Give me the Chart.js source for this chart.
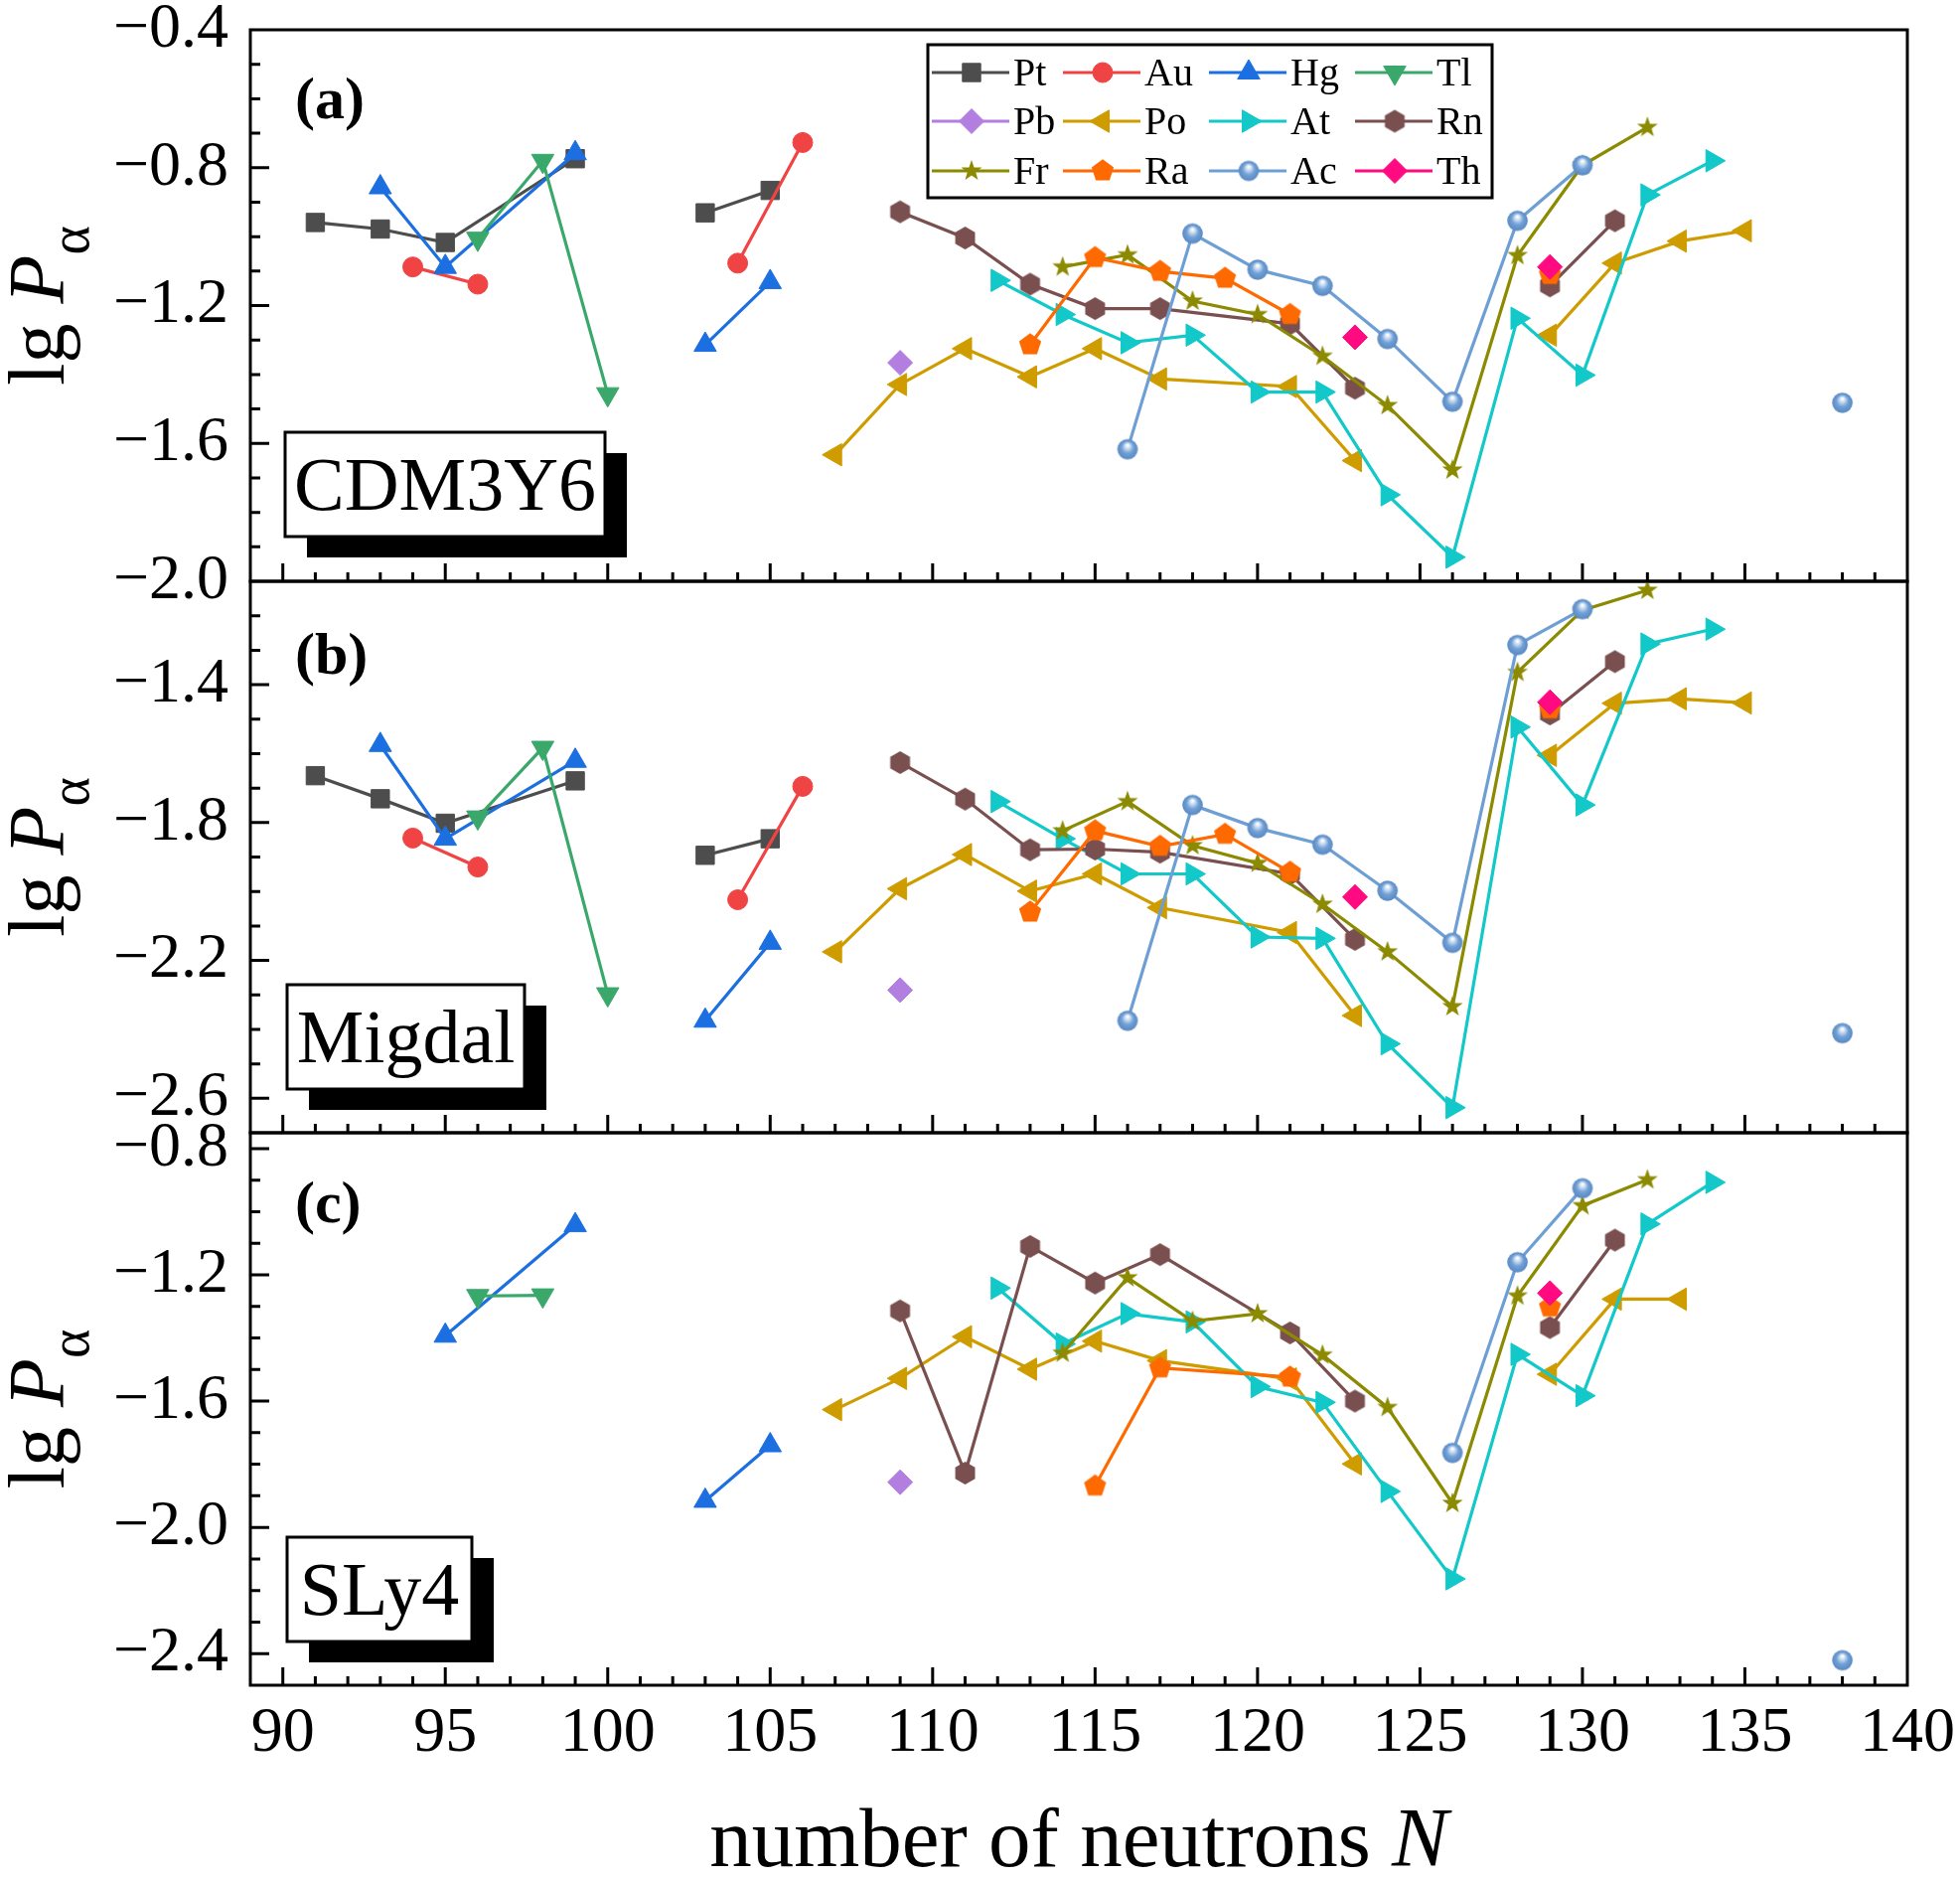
<!DOCTYPE html>
<html>
<head>
<meta charset="utf-8">
<script src="https://cdn.jsdelivr.net/npm/chart.js@4.4.1/dist/chart.umd.min.js"></script>
<style>
  html, body { margin: 0; padding: 0; background: #fff; }
  #wrap { position: relative; width: 1973px; height: 1889px; }
  #wrap canvas { position: absolute; left: 0; top: 0; }
</style>
</head>
<body>
<div id="wrap">
  <canvas id="panel-a" width="1973" height="1889"></canvas>
  <canvas id="panel-b" width="1973" height="1889"></canvas>
  <canvas id="panel-c" width="1973" height="1889"></canvas>
</div>
<script>
// lg P_alpha vs neutron number N
// A = CDM3Y6, B = Migdal, C = SLy4 ; null = no point (line is broken there)

const nPt = [91, 93, 95, 99, 101, 103, 105];
const ptA = [-0.959, -0.978, -1.017, -0.774, null, -0.931, -0.866];
const ptB = [-1.664, -1.731, -1.802, -1.679, null, -1.895, -1.847];
const ptC = [null, null, null, null, null, null, null];

const nAu = [94, 96, 100, 104, 106];
const auA = [-1.088, -1.138, null, -1.077, -0.727];
const auB = [-1.845, -1.929, null, -2.024, -1.695];
const auC = [null, null, null, null, null];

const nHg = [93, 95, 99, 101, 103, 105];
const hgA = [-0.857, -1.088, -0.758, null, -1.314, -1.132];
const hgB = [-1.575, -1.847, -1.621, null, -2.375, -2.149];
const hgC = [null, -1.393, -1.043, null, -1.916, -1.740];

const nTl = [96, 98, 100];
const tlA = [-1.006, -0.780, -1.457];
const tlB = [-1.785, -1.583, -2.298];
const tlC = [-1.267, -1.265, null];

const nPb = [109];
const pbA = [-1.366];
const pbB = [-2.286];
const pbC = [-1.857];

const nPo = [107, 109, 111, 113, 115, 117, 121, 123, 125, 129, 131, 133, 135];
const poA = [-1.633, -1.429, -1.325, -1.407, -1.325, -1.413, -1.435, -1.650, null, -1.286, -1.077, -1.013, -0.983];
const poB = [-2.175, -1.992, -1.893, -1.999, -1.949, -2.047, -2.119, -2.360, null, -1.605, -1.454, -1.441, -1.453];
const poC = [-1.627, -1.528, -1.396, -1.499, -1.410, -1.472, -1.530, -1.799, null, -1.515, -1.277, -1.277, null];

const nAt = [112, 114, 116, 118, 120, 122, 124, 126, 128, 130, 132, 134];
const atA = [-1.127, -1.226, -1.308, -1.286, -1.451, -1.451, -1.749, -1.930, -1.237, -1.402, -0.879, -0.780];
const atB = [-1.739, -1.847, -1.949, -1.949, -2.132, -2.136, -2.442, -2.627, -1.523, -1.749, -1.282, -1.239];
const atC = [-1.242, -1.419, -1.323, -1.349, -1.554, -1.604, -1.886, -2.163, -1.452, -1.583, -1.039, -0.907];

const nRn = [109, 111, 113, 115, 117, 121, 123, 125, 129, 131];
const rnA = [-0.928, -1.004, -1.138, -1.209, -1.209, -1.253, -1.440, null, -1.143, -0.954];
const rnB = [-1.626, -1.732, -1.879, -1.877, -1.886, -1.949, -2.139, null, -1.485, -1.333];
const rnC = [-1.314, -1.828, -1.110, -1.226, -1.136, -1.384, -1.600, null, -1.367, -1.090];

const nFr = [114, 116, 118, 120, 122, 124, 126, 128, 130, 132];
const frA = [-1.088, -1.053, -1.187, -1.226, -1.347, -1.490, -1.677, -1.055, -0.793, -0.683];
const frB = [-1.824, -1.739, -1.867, -1.918, -2.037, -2.175, -2.334, -1.364, -1.184, -1.126];
const frC = [-1.448, -1.209, -1.347, -1.323, -1.454, -1.620, -1.924, -1.267, -0.981, -0.899];

const nRa = [113, 115, 117, 119, 121, 125, 129];
const raA = [-1.314, -1.061, -1.101, -1.121, -1.226, null, -1.110];
const raB = [-2.060, -1.824, -1.869, -1.834, -1.944, null, -1.470];
const nRaC = [115, 117, 121, 125, 129];
const raC = [-1.869, -1.495, -1.524, null, -1.302];

const nAc = [116, 118, 120, 122, 124, 126, 128, 130, 134, 138];
const acA = [-1.617, -0.991, -1.096, -1.143, -1.297, -1.479, -0.954, -0.793, null, -1.482];
const acB = [-2.375, -1.749, -1.816, -1.864, -1.998, -2.149, -1.285, -1.181, null, -2.411];
const nAcC = [126, 128, 130, 134, 138];
const acC = [-1.764, -1.160, -0.926, null, -2.421];

const nTh = [123, 126, 129];
const thA = [-1.292, null, -1.088];
const thB = [-2.016, null, -1.451];
const thC = [null, null, -1.258];

// tick labels
const xTicks = [90, 95, 100, 105, 110, 115, 120, 125, 130, 135, 140];
const yTicksA = [-2.0, -1.6, -1.2, -0.8, -0.4];
const yTicksB = [-2.6, -2.2, -1.8, -1.4];
const yTicksC = [-2.4, -2.0, -1.6, -1.2, -0.8];

const SERIF = '"Liberation Serif", "Times New Roman", serif';
const PAGE_H = 1889;

// ---- marker shapes not built into Chart.js ----
function markerCanvas(r, draw) {
    const c = document.createElement('canvas');
    const s = Math.ceil(2 * r + 4);
    c.width = s;
    c.height = s;
    draw(c.getContext('2d'), s / 2, s / 2, r);
    return c;
}
function polygon(g, cx, cy, pts) {
    g.beginPath();
    pts.forEach(([px, py], i) => (i ? g.lineTo(cx + px, cy + py) : g.moveTo(cx + px, cy + py)));
    g.closePath();
    g.fill();
}
function regular(n, r, inner) {
    const pts = [];
    const k = inner ? 2 * n : n;
    for (let i = 0; i < k; i++) {
        const a = -Math.PI / 2 + i * 2 * Math.PI / k;
        const rr = inner && i % 2 ? inner : r;
        pts.push([rr * Math.cos(a), rr * Math.sin(a)]);
    }
    return pts;
}
const hexagon = markerCanvas(11.5, (g, cx, cy, r) => { g.fillStyle = '#7a4f4f'; polygon(g, cx, cy, regular(6, r)); });
const pentagon = markerCanvas(11.7, (g, cx, cy, r) => { g.fillStyle = '#ff6a00'; polygon(g, cx, cy, regular(5, r)); });
const star = markerCanvas(11, (g, cx, cy, r) => { g.fillStyle = '#8b8a00'; polygon(g, cx, cy, regular(5, r, 4.4)); });
const sphere = markerCanvas(10.3, (g, cx, cy, r) => {
    const gr = g.createRadialGradient(cx, cy - r * 0.42, r * 0.06, cx, cy, r);
    gr.addColorStop(0, '#ffffff');
    gr.addColorStop(0.25, '#c2d7ef');
    gr.addColorStop(0.55, '#71a1d6');
    gr.addColorStop(1, '#5888c2');
    g.fillStyle = gr;
    g.beginPath();
    g.arc(cx, cy, r, 0, Math.PI * 2);
    g.fill();
});

const styles = {
    Pt: { color: '#4d4d4d', pointStyle: 'rect', radius: 13, rotation: 0 },
    Au: { color: '#f04444', pointStyle: 'circle', radius: 10, rotation: 0 },
    Hg: { color: '#1c6fe0', pointStyle: 'triangle', radius: 13, rotation: 0 },
    Tl: { color: '#3aa86b', pointStyle: 'triangle', radius: 13, rotation: 180 },
    Pb: { color: '#b27fe0', pointStyle: 'rectRot', radius: 12.5, rotation: 0 },
    Po: { color: '#cf9c00', pointStyle: 'triangle', radius: 13, rotation: 270 },
    At: { color: '#12c8c8', pointStyle: 'triangle', radius: 13, rotation: 90 },
    Rn: { color: '#7a4f4f', pointStyle: hexagon, radius: 11.5, rotation: 0 },
    Fr: { color: '#8b8a00', pointStyle: star, radius: 11, rotation: 0 },
    Ra: { color: '#ff6a00', pointStyle: pentagon, radius: 11.7, rotation: 0 },
    Ac: { color: '#6d9fd5', pointStyle: sphere, radius: 10.3, rotation: 0 },
    Th: { color: '#ff0a80', pointStyle: 'rectRot', radius: 12.5, rotation: 0 },
};
const legendOrder = ['Pt', 'Au', 'Hg', 'Tl', 'Pb', 'Po', 'At', 'Rn', 'Fr', 'Ra', 'Ac', 'Th'];

function series(name, ns, vals) {
    const st = styles[name];
    const idx = legendOrder.indexOf(name);
    return {
        label: name,
        data: ns.map((n, i) => ({ x: n, y: vals[i] })),
        borderColor: st.color,
        backgroundColor: st.color,
        borderWidth: 3.2,
        pointStyle: st.pointStyle,
        pointRotation: st.rotation,
        pointRadius: st.radius,
        pointBorderWidth: 1,
        pointBorderColor: st.color,
        pointBackgroundColor: st.color,
        spanGaps: false,
        tension: 0,
        order: 20 - idx, // later elements drawn on top
    };
}

const panels = [
    {
        id: 'panel-a', top: 30, bottom: 585, min: -2.0, max: -0.4, yTicks: yTicksA,
        tag: '(a)', tagY: 119, box: { text: 'CDM3Y6', x: 287, y: 435, w: 322, h: 105 }, legend: true, showX: false,
        datasets: [series('Pt', nPt, ptA), series('Au', nAu, auA), series('Hg', nHg, hgA), series('Tl', nTl, tlA),
            series('Pb', nPb, pbA), series('Po', nPo, poA), series('At', nAt, atA), series('Rn', nRn, rnA),
            series('Fr', nFr, frA), series('Ra', nRa, raA), series('Ac', nAc, acA), series('Th', nTh, thA)],
    },
    {
        id: 'panel-b', top: 585, bottom: 1140, min: -2.7, max: -1.1, yTicks: yTicksB,
        tag: '(b)', tagY: 678, box: { text: 'Migdal', x: 289, y: 991, w: 239, h: 105 }, legend: false, showX: false,
        datasets: [series('Pt', nPt, ptB), series('Au', nAu, auB), series('Hg', nHg, hgB), series('Tl', nTl, tlB),
            series('Pb', nPb, pbB), series('Po', nPo, poB), series('At', nAt, atB), series('Rn', nRn, rnB),
            series('Fr', nFr, frB), series('Ra', nRa, raB), series('Ac', nAc, acB), series('Th', nTh, thB)],
    },
    {
        id: 'panel-c', top: 1140, bottom: 1696, min: -2.5, max: -0.75, yTicks: yTicksC,
        tag: '(c)', tagY: 1230, box: { text: 'SLy4', x: 289, y: 1547, w: 186, h: 105 }, legend: false, showX: true,
        datasets: [series('Pt', nPt, ptC), series('Au', nAu, auC), series('Hg', nHg, hgC), series('Tl', nTl, tlC),
            series('Pb', nPb, pbC), series('Po', nPo, poC), series('At', nAt, atC), series('Rn', nRn, rnC),
            series('Fr', nFr, frC), series('Ra', nRaC, raC), series('Ac', nAcC, acC), series('Th', nTh, thC)],
    },
];

function fmt(v) {
    return v.toFixed(1).replace('-', '\u2212');
}

// frame, inward ticks, labels, legend
const decor = {
    id: 'decor',
    afterDatasetsDraw(chart, args, opts) {
        const p = opts.panel;
        const { ctx, chartArea: a } = chart;
        const x = chart.scales.x, y = chart.scales.y;
        ctx.save();
        ctx.strokeStyle = '#000';
        ctx.lineWidth = 3;
        ctx.beginPath();
        for (let n = Math.ceil(x.min); n <= x.max; n++) {
            const px = x.getPixelForValue(n);
            if (px < a.left + 2 || px > a.right - 2) continue;
            const len = n % 5 === 0 ? 18 : 9;
            ctx.moveTo(px, a.bottom);
            ctx.lineTo(px, a.bottom - len);
        }
        for (let k = Math.ceil(y.min * 10 - 1e-6); k <= Math.floor(y.max * 10 + 1e-6); k++) {
            const v = k / 10;
            const py = y.getPixelForValue(v);
            if (py < a.top + 2 || py > a.bottom - 2) continue;
            const major = p.yTicks.some(m => Math.abs(m - v) < 1e-6);
            ctx.moveTo(a.left, py);
            ctx.lineTo(a.left + (major ? 19 : 10), py);
        }
        ctx.stroke();
        ctx.strokeRect(a.left, a.top, a.right - a.left, a.bottom - a.top);

        // panel tag
        ctx.fillStyle = '#000';
        ctx.textBaseline = 'alphabetic';
        ctx.textAlign = 'left';
        ctx.font = 'bold 60px ' + SERIF;
        ctx.fillText(p.tag, 297, p.tagY);

        // method box with shadow
        const b = p.box;
        ctx.fillStyle = '#000';
        ctx.fillRect(b.x + 22, b.y + 21, b.w, b.h);
        ctx.fillStyle = '#fff';
        ctx.fillRect(b.x, b.y, b.w, b.h);
        ctx.lineWidth = 3;
        ctx.strokeRect(b.x, b.y, b.w, b.h);
        ctx.fillStyle = '#000';
        ctx.font = '76px ' + SERIF;
        ctx.textAlign = 'center';
        ctx.fillText(b.text, b.x + b.w / 2, b.y + b.h / 2 + 25);

        // y title: lg P_alpha
        const cy = (a.top + a.bottom) / 2;
        ctx.translate(64, cy);
        ctx.rotate(-Math.PI / 2);
        ctx.textAlign = 'left';
        ctx.font = '80px ' + SERIF;
        const w1 = ctx.measureText('lg ').width;
        ctx.font = 'italic 80px ' + SERIF;
        const w2 = ctx.measureText('P').width;
        ctx.font = '56px ' + SERIF;
        const w3 = ctx.measureText('\u03b1').width;
        let sx = -(w1 + w2 + w3) / 2;
        ctx.font = '80px ' + SERIF;
        ctx.fillText('lg ', sx, 0);
        sx += w1;
        ctx.font = 'italic 80px ' + SERIF;
        ctx.fillText('P', sx, 0);
        sx += w2;
        ctx.font = '56px ' + SERIF;
        ctx.fillText('\u03b1', sx, 25);
        ctx.setTransform(1, 0, 0, 1, 0, 0);

        if (p.showX) {
            ctx.font = '85px ' + SERIF;
            const t1 = 'number of neutrons ';
            const tw1 = ctx.measureText(t1).width;
            ctx.font = 'italic 85px ' + SERIF;
            const tw2 = ctx.measureText('N').width;
            const x0 = (a.left + a.right) / 2 - (tw1 + tw2) / 2;
            ctx.font = '85px ' + SERIF;
            ctx.textAlign = 'left';
            ctx.fillText(t1, x0, 1878);
            ctx.font = 'italic 85px ' + SERIF;
            ctx.fillText('N', x0 + tw1, 1878);
        }

        if (p.legend) {
            const lx = 934, ly = 45, lw = 568, lh = 154;
            ctx.fillStyle = '#fff';
            ctx.fillRect(lx, ly, lw, lh);
            ctx.strokeStyle = '#000';
            ctx.lineWidth = 3;
            ctx.strokeRect(lx, ly, lw, lh);
            const cols = [938, 1070, 1217, 1364];
            const rows = [73, 122, 172];
            ctx.font = '40px ' + SERIF;
            ctx.textBaseline = 'middle';
            legendOrder.forEach((name, i) => {
                const st = styles[name];
                const x0 = cols[i % 4], y0 = rows[Math.floor(i / 4)];
                ctx.strokeStyle = st.color;
                ctx.fillStyle = st.color;
                ctx.lineWidth = 3;
                ctx.beginPath();
                ctx.moveTo(x0, y0);
                ctx.lineTo(x0 + 78, y0);
                ctx.stroke();
                ctx.lineWidth = 1;
                Chart.helpers.drawPoint(ctx, {
                    pointStyle: st.pointStyle, rotation: st.rotation, radius: st.radius, borderWidth: 1,
                }, x0 + 40, y0);
                ctx.fillStyle = '#000';
                ctx.fillText(name, x0 + 82, y0 + 2);
            });
        }
        ctx.restore();
    },
};

panels.forEach(p => {
    new Chart(document.getElementById(p.id), {
        type: 'line',
        data: { datasets: p.datasets },
        plugins: [decor],
        options: {
            responsive: false,
            animation: false,
            events: [],
            layout: {
                padding: { left: 0, right: 53, top: p.top, bottom: p.showX ? 0 : PAGE_H - p.bottom },
            },
            plugins: {
                legend: { display: false },
                tooltip: { enabled: false },
                decor: { panel: p },
            },
            scales: {
                x: {
                    type: 'linear',
                    min: 89,
                    max: 140,
                    display: p.showX,
                    grid: { display: false, drawTicks: false },
                    border: { display: false },
                    ticks: {
                        autoSkip: false,
                        maxRotation: 0,
                        padding: 17,
                        color: '#000',
                        font: { family: SERIF, size: 64, lineHeight: 1 },
                    },
                    afterBuildTicks: s => { s.ticks = xTicks.map(v => ({ value: v })); },
                    afterFit: s => {
                        if (!p.showX) return;
                        s.height = PAGE_H - p.bottom;
                        s.paddingLeft = 0;
                        s.paddingRight = 0;
                    },
                },
                y: {
                    type: 'linear',
                    min: p.min,
                    max: p.max,
                    grid: { display: false, drawTicks: false },
                    border: { display: false },
                    ticks: {
                        padding: 22,
                        color: '#000',
                        font: { family: SERIF, size: 64, lineHeight: 0.8 },
                        callback: v => fmt(v),
                    },
                    afterBuildTicks: s => { s.ticks = p.yTicks.map(v => ({ value: v })); },
                    afterFit: s => {
                        s.width = 252;
                        s.paddingTop = 0;
                        s.paddingBottom = 0;
                    },
                },
            },
        },
    });
});
</script>
</body>
</html>
